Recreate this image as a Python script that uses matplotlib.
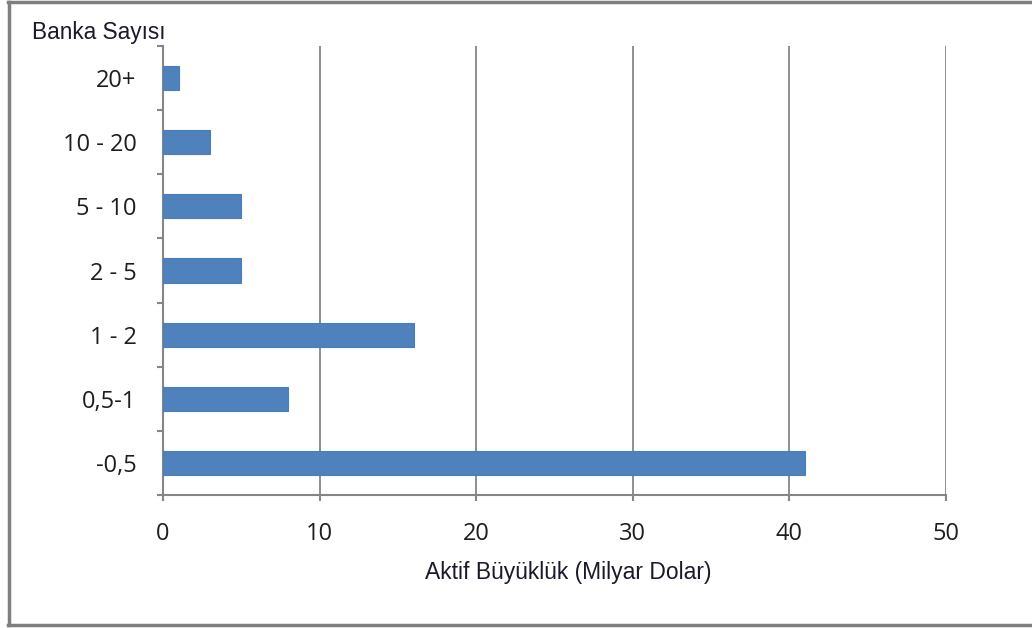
import matplotlib
matplotlib.use("Agg")
import matplotlib.pyplot as plt
from matplotlib.lines import Line2D

# Bank count by asset size group
categories = ["-0,5", "0,5-1", "1 - 2", "2 - 5", "5 - 10", "10 - 20", "20+"]
bank_counts = [41, 8, 16, 5, 5, 3, 1]
x_ticks = [0, 10, 20, 30, 40, 50]

W, H = 1032, 628
fig = plt.figure(figsize=(W / 100, H / 100), dpi=100)
fig.patch.set_facecolor("white")

# axes rectangle in pixel units
left, right, top, bottom = 163, 946, 46, 495
ax = fig.add_axes([left / W, 1 - bottom / H, (right - left) / W, (bottom - top) / H])

grey = "#868686"
text_col = "#1e1e1e"
ypos = list(range(len(categories)))
ax.barh(ypos, bank_counts, height=0.375, color="#4F81BD", edgecolor="#4A7EBB",
        linewidth=0.8, zorder=3)

ax.set_xlim(0, 50)
ax.set_ylim(-0.5, len(categories) - 0.5)
ax.set_xticks(x_ticks)
ax.set_xticklabels([str(t) for t in x_ticks])
ax.set_yticks(ypos)
ax.set_yticklabels(categories)
ax.set_yticks([i - 0.5 for i in range(len(categories) + 1)], minor=True)

ax.grid(axis="x", color=grey, linewidth=1.3, zorder=1)
for s in ["top", "right"]:
    ax.spines[s].set_visible(False)
for s in ["left", "bottom"]:
    ax.spines[s].set_color(grey)
    ax.spines[s].set_linewidth(1.5)

ax.tick_params(axis="y", which="major", length=0, pad=19, labelsize=17, labelcolor=text_col)
ax.tick_params(axis="y", which="minor", length=4, width=1.5, color=grey)
ax.tick_params(axis="x", which="major", length=4.5, width=1.5, color=grey, pad=15,
               labelsize=17, labelcolor=text_col)
for lbl in ax.get_xticklabels() + ax.get_yticklabels():
    lbl.set_fontfamily("Open Sans")

fig.text(32 / W, 1 - 32 / H, "Banka Sayısı", fontsize=16.3, family="Liberation Sans",
         color="#1a1a2a", ha="left", va="center")
fig.text(568 / W, 1 - 573 / H, "Aktif Büyüklük (Milyar Dolar)", fontsize=16.5,
         family="Liberation Sans", color="#1a1a2a", ha="center", va="center")

# outer frame (left, top and bottom edges)
fc = "#7f7f7f"
fig.add_artist(Line2D([9 / W, 9 / W], [1 - 2 / H, 1 - 625 / H], color=fc, linewidth=2.5,
                      transform=fig.transFigure))
fig.add_artist(Line2D([8 / W, 1.0], [1 - 2 / H, 1 - 2 / H], color=fc, linewidth=2.5,
                      transform=fig.transFigure))
fig.add_artist(Line2D([8 / W, 1.0], [1 - 625 / H, 1 - 625 / H], color=fc, linewidth=2.5,
                      transform=fig.transFigure))

fig.savefig("out.png", dpi=100, facecolor="white")
